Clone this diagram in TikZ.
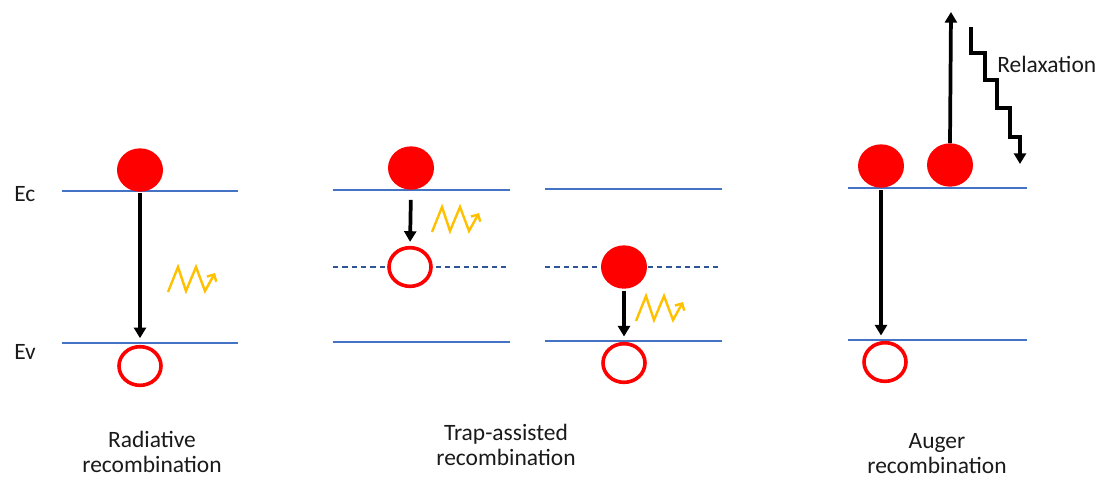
\documentclass[tikz,border=0pt]{standalone}
\usepackage{fontspec}
\setmainfont{Carlito}
\usetikzlibrary{shapes.geometric,arrows.meta}
\definecolor{band}{HTML}{4472C4}
\definecolor{trapc}{HTML}{2F5597}
\definecolor{photonc}{HTML}{FFC000}
\definecolor{txt}{HTML}{1A1A1A}
\tikzset{
  bandline/.style={band,line width=2pt},
  trapline/.style={trapc,line width=1.1pt,dash pattern=on 4pt off 3pt},
  electron/.style={ellipse,fill=red,draw=none,inner sep=0pt,minimum width=34.5pt,minimum height=32.5pt},
  hole/.style={ellipse,draw=red,line width=2.7pt,fill=white,inner sep=0pt,minimum width=31.5pt,minimum height=29pt},
  arr/.style={black,line width=2.8pt,-{Triangle[length=8pt,width=9pt]}},
  lbl/.style={font=\fontsize{17.6}{18.5}\selectfont,text=txt,align=center,inner sep=0pt},
  photon/.pic={\draw[photonc,line width=1.8pt,line join=miter,-{Straight Barb[length=4pt,width=8pt]}]
      (0,0)--(10,-25)--(18,-1)--(28,-25)--(37,-1)--(47,-19);}
}
\begin{document}
\begin{tikzpicture}[x=0.75pt,y=-0.75pt]
\useasboundingbox (0,0) rectangle (1103,479);
% labels Ec Ev
\node[lbl,anchor=west] (ec) at (14,194) {Ec};
\node[lbl,anchor=west] (ev) at (14,352) {Ev};
% ---------- panel 1 ----------
\draw[bandline] (62,191) -- (238,191);
\draw[bandline] (62,343) -- (238,343);
\node[electron] (e1) at (140,170) {};
\node[hole] (h1) at (140,366) {};
\draw[arr,shorten <=1pt,shorten >=5pt] (e1.south) -- (h1.north);
\pic at (168,292) {photon};
\node[lbl,anchor=base] (t1) at (152,472) {Radiative\\recombination};
% ---------- panel 2 ----------
\draw[bandline] (333,190) -- (510,190);
\draw[trapline] (333,267) -- (510,267);
\draw[bandline] (333,342) -- (510,342);
\node[electron] (e2) at (411,168) {};
\node[hole] (h2) at (410,267) {};
\draw[arr,shorten <=7.5pt,shorten >=3pt] (e2.south) -- (h2.north);
\pic at (432,232) {photon};
% ---------- panel 3 ----------
\draw[bandline] (545,189) -- (722,189);
\draw[trapline] (545,267) -- (722,267);
\draw[bandline] (545,341) -- (722,341);
\node[electron] (e3) at (624,267) {};
\node[hole] (h3) at (624,363) {};
\draw[arr,shorten <=1.5pt,shorten >=4pt] (e3.south) -- (h3.north);
\pic at (636,321) {photon};
\node[lbl,anchor=base] (t2) at (506,465) {Trap-assisted\\recombination};
% ---------- panel 4 ----------
\draw[bandline] (848,188) -- (1027,188);
\draw[bandline] (848,340) -- (1027,340);
\node[electron] (e4) at (881,166) {};
\node[electron] (e5) at (950,165) {};
\node[hole] (h4) at (885,362) {};
\draw[arr,shorten <=1.5pt,shorten >=4pt] (e4.south) -- (e4.south |- h4.north);
\coordinate (up) at (951,12);
\draw[arr] (e5.north) -- (up);
\coordinate (s0) at (971,27);
\draw[black,line width=2.6pt,line join=miter,-{Triangle[length=8pt,width=9pt]}]
  (s0) -- ++(0,26) -- ++(14,0) -- ++(0,27) -- ++(12,0) -- ++(0,28) -- ++(13,0) -- ++(0,29) -- ++(10,0) -- ++(0,27);
\node[lbl,anchor=base west] (relax) at (997,72) {Relaxation};
\node[lbl,anchor=base] (t3) at (937,473) {Auger\\recombination};
\end{tikzpicture}
\end{document}
